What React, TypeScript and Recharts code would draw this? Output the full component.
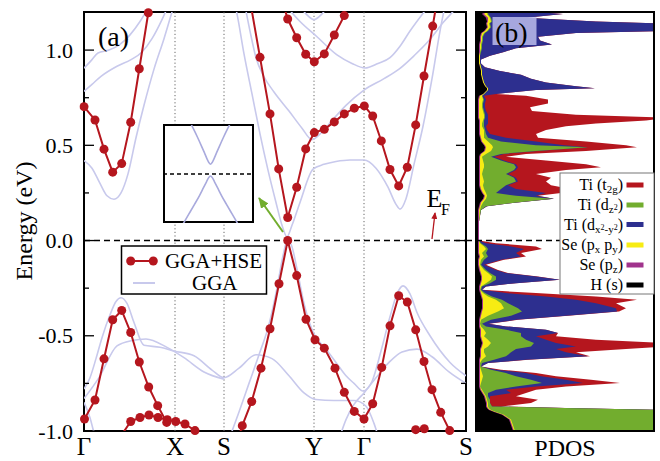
import React from 'react';
import {
  LineChart,
  Line,
  AreaChart,
  Area,
  XAxis,
  YAxis,
  ReferenceLine,
  ReferenceArea,
} from 'recharts';

const RED = '#b5161e';
const GGA = '#c8c9ec';
const INSET_LINE = '#a9aadd';
const GREEN = '#72ad2e';
const BLUE = '#2d2f8f';
const YELLOW = '#f7ec13';
const PURPLE = '#a0338c';
const SERIF = '"Liberation Serif", "Times New Roman", Times, serif';

const PLOT_R = 466; // right edge of panel (a) inside its svg
const PDOS_R = 654; // right edge of panel (b)
const INSET_R = 140; // right edge of the inset plot inside its svg

// k-path and energy axis
const kTicks = [0, 91, 140, 230, 280, 382];
const kLabels = ['Γ', 'X', 'S', 'Y', 'Γ', 'S'];
const eTicks = [-1, -0.75, -0.5, -0.25, 0, 0.25, 0.5, 0.75, 1];
const insetTicks = [-0.05, 0.05];

// GGA+HSE bands, [k, E(eV)]
const hseC1 = [[0, 0.703], [11, 0.633], [20, 0.48], [28.7, 0.359], [37.7, 0.404], [46.7, 0.621], [55.3, 0.902], [64.3, 1.196]];
const hseC2 = [[164, 1.32], [176, 0.962], [186, 0.665], [194.7, 0.376], [203.7, 0.121], [212.7, 0.28], [221.7, 0.481], [230.3, 0.567], [240.3, 0.584], [250.3, 0.623], [260.3, 0.665], [270.3, 0.695], [280.3, 0.707], [288.7, 0.654], [297.3, 0.523], [306, 0.373], [314.7, 0.287], [323.3, 0.385], [331.7, 0.607], [340, 0.864], [348.7, 1.126], [355, 1.32]];
const hseC3 = [[194.7, 1.32], [203.7, 1.163], [212.7, 1.065], [221.7, 0.978], [230.3, 0.939], [240.3, 0.98], [250.3, 1.079], [260.3, 1.181], [268, 1.32]];
const hseV1 = [[0.5, -0.937], [11, -0.837], [20, -0.621], [28.7, -0.416], [37.7, -0.367], [46.7, -0.483], [55.3, -0.638], [64.7, -0.769], [73.7, -0.867], [82.7, -0.955]];
const hseV2 = [[30, -1.08], [46.7, -0.95], [56, -0.929], [65, -0.916], [74, -0.929], [83.3, -0.941], [91.7, -0.95], [101, -0.963], [111, -0.998], [120, -1.12]];
const hseV3 = [[149, -1.12], [158.3, -0.972], [167.7, -0.845], [177, -0.67], [186, -0.463], [195, -0.227], [203.7, 0], [212.7, -0.184], [222, -0.413], [231, -0.521], [240.3, -0.565], [251, -0.67], [260.3, -0.797], [270.3, -0.897], [280, -0.937], [288.7, -0.857], [297.7, -0.666], [306, -0.448], [314.7, -0.29], [323.3, -0.323], [331.7, -0.469], [340, -0.635], [348, -0.783], [356.7, -0.902], [365.7, -0.998], [374, -1.12]];
const hseV4 = [[323, -1.12], [331.7, -0.993], [340.3, -0.988], [349, -1.12]];
const hseBands = [hseC1, hseC2, hseC3, hseV1, hseV2, hseV3, hseV4];

// GGA bands, [k, E(eV)]
const ggaC1 = [[0, 0.42], [8, 0.38], [16, 0.3], [23, 0.235], [30, 0.217], [37, 0.25], [44, 0.35], [52, 0.54], [60, 0.71], [70, 0.9], [80, 1.06], [88, 1.2], [96, 1.33]];
const ggaC2 = [[150, 1.26], [153, 1.19], [160, 0.98], [168, 0.77], [176, 0.56], [184, 0.37], [192, 0.2], [198, 0.08], [203, 0.02], [208, 0.08], [216, 0.2], [229, 0.375], [240, 0.4], [252, 0.415], [266, 0.423], [280, 0.423], [292, 0.38], [304, 0.28], [312, 0.19], [316, 0.165], [322, 0.22], [330, 0.4], [339, 0.6], [348, 0.85], [356, 1.1], [362, 1.26]];
const ggaC3 = [[0, 0.905], [8, 0.95], [14, 0.985], [25, 1.0], [36, 1.03], [46, 1.08], [56, 1.15], [64, 1.22]];
const ggaC4 = [[0, 0.783], [8, 0.82], [17, 0.862], [33, 0.915], [47, 0.95], [58, 0.99], [68, 1.06], [78, 1.16], [84, 1.23]];
const ggaC5 = [[160, 1.26], [166, 1.1], [172, 0.96], [180, 0.86], [190, 0.78], [205, 0.68], [218, 0.59], [228, 0.53], [238, 0.57], [248, 0.63], [262, 0.71], [280, 0.79], [300, 0.85], [315, 0.9], [330, 0.97], [345, 1.05], [360, 1.15], [372, 1.22], [378, 1.26]];
const ggaC6 = [[204, 1.22], [216, 1.15], [233, 1.07], [253, 0.975], [268, 0.93], [281, 0.906], [294, 0.93], [306, 0.96], [316, 1.02], [326, 1.1], [343, 1.22]];
const ggaC7 = [[212, 1.26], [222, 1.19], [230, 1.16], [238, 1.19], [248, 1.26]];
const ggaV1 = [[0, -0.78], [6, -0.72], [12, -0.62], [18, -0.51], [26, -0.39], [32, -0.32], [37, -0.3], [43, -0.33], [50, -0.43], [60, -0.55], [76, -0.56], [90, -0.58], [110, -0.605], [128, -0.68], [140, -0.72], [155, -0.67], [172, -0.6], [188, -0.62], [205, -0.71], [220, -0.8], [232, -0.835], [250, -0.84], [270, -0.84], [282, -0.87], [290, -0.96], [296, -1.06]];
const ggaV2 = [[0, -0.83], [15, -0.72], [33, -0.553], [48, -0.525], [62, -0.517], [83, -0.561], [100, -0.615], [120, -0.69], [140, -0.728]];
const ggaV3 = [[146, -1.03], [155, -0.9], [165, -0.75], [175, -0.6], [185, -0.44], [193, -0.25], [199, -0.08], [203, -0.004], [207, -0.02], [213, -0.15], [220, -0.33], [229, -0.48], [242, -0.57], [252, -0.64], [262, -0.71], [270, -0.75], [279, -0.79], [288, -0.74], [297, -0.58], [306, -0.4], [313, -0.28], [319, -0.238], [326, -0.28], [333, -0.378], [346, -0.5], [366, -0.64], [382, -0.71]];
const ggaV4 = [[254, -1.06], [262, -0.94], [270, -0.86], [280, -0.8], [292, -0.72], [305, -0.64], [318, -0.585], [333, -0.57], [348, -0.61], [365, -0.69], [382, -0.75]];
const ggaV5 = [[0, -0.85], [6, -0.93], [11, -1.03], [14, -1.08]];
const ggaBands = [ggaC1, ggaC2, ggaC3, ggaC4, ggaC5, ggaC6, ggaC7, ggaV1, ggaV2, ggaV3, ggaV4, ggaV5];

// inset: zoom at the gap, [k, E(eV)]
const insetUpper = [[-21, 0.108], [-17, 0.092], [-13, 0.075], [-9, 0.057], [-6, 0.043], [-3.5, 0.031], [-1.5, 0.023], [0, 0.02], [1.5, 0.023], [3.5, 0.031], [6, 0.043], [9, 0.057], [13, 0.075], [17, 0.092], [21, 0.108]];
const insetLower = [[-28, -0.104], [-22, -0.083], [-16, -0.062], [-11, -0.044], [-7, -0.028], [-4, -0.016], [-2, -0.008], [0, -0.004], [2, -0.008], [4, -0.016], [7, -0.028], [11, -0.044], [16, -0.062], [22, -0.083], [28, -0.104]];

// PDOS (stacked, cumulative values, arb. units)
const pdosE = [
  1.2, 1.19, 1.17, 1.15, 1.14, 1.12, 1.1, 1.09, 1.07, 1.05,
  1.03, 1.01, 0.99, 0.97, 0.95, 0.93, 0.91, 0.89, 0.87, 0.85,
  0.83, 0.81, 0.8, 0.79, 0.77, 0.76, 0.74, 0.72, 0.7, 0.68,
  0.66, 0.645, 0.63, 0.615, 0.6, 0.58, 0.56, 0.54, 0.52, 0.5,
  0.49, 0.47, 0.455, 0.44, 0.42, 0.4, 0.385, 0.37, 0.35, 0.33,
  0.31, 0.29, 0.27, 0.25, 0.235, 0.22, 0.2, 0.18, 0.16, 0.1,
  0.05, 0, -0.014, -0.031, -0.045, -0.066, -0.084, -0.101, -0.127, -0.154,
  -0.171, -0.189, -0.206, -0.224, -0.241, -0.259, -0.276, -0.294, -0.311, -0.329,
  -0.355, -0.372, -0.395, -0.416, -0.437, -0.451, -0.468, -0.486, -0.503, -0.521,
  -0.538, -0.556, -0.57, -0.587, -0.608, -0.626, -0.643, -0.661, -0.678, -0.696,
  -0.713, -0.731, -0.748, -0.766, -0.783, -0.801, -0.818, -0.836, -0.853, -0.871,
  -0.88, -0.89, -0.9, -0.915, -0.94, -0.97, -1,
];
const pdosH = [
  8, 6, 10, 11, 10, 11, 8, 5, 4, 4,
  3, 3, 3, 3, 3, 3, 4, 5, 5, 6,
  7, 9, 11, 11, 7, 3, 2, 2, 2, 2,
  2, 2, 3, 3, 3, 3, 3, 4, 5, 8,
  9, 8, 4, 3, 3, 3, 3, 3, 3, 3,
  3, 3, 4, 6, 8, 7, 4, 3, 2, 2,
  2, 2, 2, 2, 2, 2, 3, 2, 2, 3,
  4, 5, 5, 4, 3, 3, 4, 5, 6, 6,
  6, 5, 4, 3, 3, 3, 4, 4, 4, 5,
  6, 5, 4, 4, 4, 3, 3, 3, 3, 3,
  3, 3, 3, 3, 4, 6, 8, 9, 10, 10,
  11, 13, 18, 26, 33, 35, 37,
];
const pdosSePz = [
  10, 8, 12, 12, 11, 12, 9, 6, 5, 5,
  4, 4, 4, 3, 3, 3, 4, 5, 5, 6,
  7, 9, 11, 11, 7, 4, 3, 3, 3, 3,
  3, 3, 4, 4, 4, 4, 4, 5, 6, 9,
  10, 9, 5, 4, 4, 4, 4, 4, 4, 4,
  4, 4, 5, 7, 9, 8, 5, 4, 3, 3,
  3, 3, 3, 3, 3, 3, 4, 3, 3, 4,
  5, 6, 6, 5, 4, 4, 5, 6, 7, 7,
  7, 6, 5, 4, 4, 4, 5, 5, 5, 6,
  7, 6, 5, 5, 5, 4, 4, 4, 4, 4,
  4, 4, 4, 4, 5, 7, 9, 10, 11, 11,
  12, 14, 19, 27, 34, 36, 38,
];
const pdosSePxy = [
  12, 11, 14, 15, 13, 14, 11, 8, 6, 6,
  5, 5, 4, 4, 4, 4, 5, 6, 6, 7,
  8, 10, 12, 12, 8, 6, 7, 6, 6, 7,
  8, 8, 7, 6, 6, 8, 8, 8, 12, 16,
  17, 15, 10, 6, 7, 8, 8, 7, 6, 7,
  8, 7, 8, 10, 11, 10, 7, 5, 4, 3,
  3, 3, 4, 8, 10, 6, 8, 5, 4, 8,
  12, 16, 15, 10, 5, 4, 7, 12, 20, 25,
  28, 22, 12, 5, 4, 5, 8, 10, 8, 12,
  15, 12, 8, 8, 10, 6, 4, 4, 5, 6,
  7, 6, 5, 4, 6, 8, 10, 11, 12, 12,
  13, 15, 20, 28, 35, 37, 39,
];
const pdosTiDz2 = [
  13, 12, 15, 16, 14, 15, 12, 9, 7, 7,
  6, 6, 5, 4, 4, 4, 5, 6, 6, 7,
  8, 10, 12, 12, 8, 6, 8, 7, 7, 8,
  9, 9, 8, 8, 8, 9, 10, 12, 25, 60,
  112, 60, 25, 15, 25, 38, 40, 38, 30, 38,
  40, 30, 25, 20, 40, 77, 40, 10, 5, 3,
  3, 3, 5, 10, 12, 10, 12, 8, 5, 10,
  14, 20, 20, 14, 6, 5, 9, 16, 26, 32,
  42, 46, 35, 15, 6, 10, 30, 45, 45, 50,
  58, 55, 40, 35, 30, 18, 6, 5, 15, 30,
  40, 55, 66, 40, 20, 12, 12, 14, 14, 16,
  100, 190, 190, 190, 190, 190, 190,
];
const pdosTiDx2 = [
  60, 87, 50, 120, 180, 190, 190, 100, 62, 64,
  76, 40, 28, 14, 5, 5, 9, 24, 45, 55,
  70, 100, 119, 60, 20, 8, 10, 9, 9, 10,
  12, 12, 12, 12, 10, 11, 14, 30, 60, 88,
  112, 62, 28, 18, 28, 40, 42, 40, 32, 40,
  42, 32, 40, 70, 60, 78, 41, 11, 5, 3,
  3, 3, 10, 35, 48, 40, 45, 25, 8, 20,
  30, 60, 84, 40, 10, 6, 30, 70, 100, 120,
  140, 141, 90, 40, 12, 30, 70, 82, 60, 70,
  80, 100, 80, 90, 112, 50, 12, 5, 20, 50,
  65, 90, 107, 60, 30, 35, 14, 14, 14, 16,
  100, 190, 190, 190, 190, 190, 190,
];
const pdosTiT2g = [
  60, 87, 50, 120, 180, 190, 190, 100, 62, 64,
  76, 40, 28, 14, 5, 5, 9, 24, 45, 55,
  70, 100, 119, 60, 20, 50, 72, 72, 54, 56,
  100, 190, 170, 120, 90, 70, 60, 62, 110, 150,
  161, 110, 50, 30, 70, 110, 125, 90, 60, 75,
  70, 75, 95, 85, 62, 78, 41, 11, 5, 3,
  3, 3, 20, 60, 66, 45, 50, 28, 10, 22,
  32, 62, 84, 40, 10, 6, 60, 120, 161, 140,
  150, 143, 92, 42, 13, 30, 70, 82, 80, 120,
  190, 190, 150, 100, 114, 52, 12, 5, 25, 60,
  80, 115, 144, 90, 60, 50, 40, 62, 55, 25,
  100, 190, 190, 190, 190, 190, 190,
];

const toPts = (band: number[][]) => band.map(([k, e]) => ({ k, e }));

const pdosRows = pdosE.map((e, i) => ({
  e,
  h: pdosH[i],
  sePz: pdosSePz[i],
  sePxy: pdosSePxy[i],
  tiDz2: pdosTiDz2[i],
  tiDx2: pdosTiDx2[i],
  tiT2g: pdosTiT2g[i],
}));

const isMajor = (v: number) => Math.abs(v * 2 - Math.round(v * 2)) < 1e-6;

const EnergyTick = (props: any) => {
  const { x, y, payload } = props;
  const v = payload.value;
  const len = isMajor(v) ? 10 : 5;
  return (
    <g>
      <line x1={x} x2={x + len} y1={y} y2={y} stroke="#000" strokeWidth={1.3} />
      <line x1={PLOT_R - len} x2={PLOT_R} y1={y} y2={y} stroke="#000" strokeWidth={1.3} />
      {isMajor(v) && (
        <text x={x - 11} y={y + 7.5} textAnchor="end" fontSize={22} fontFamily={SERIF} fill="#000">
          {v.toFixed(1)}
        </text>
      )}
    </g>
  );
};

const PdosTick = (props: any) => {
  const { x, y } = props;
  return (
    <g>
      <line x1={x} x2={x + 5} y1={y} y2={y} stroke="#000" strokeWidth={1.2} />
      <line x1={PDOS_R - 5} x2={PDOS_R} y1={y} y2={y} stroke="#000" strokeWidth={1.2} />
    </g>
  );
};

const InsetTick = (props: any) => {
  const { x, y, payload } = props;
  return (
    <g>
      <line x1={x} x2={x + 4} y1={y} y2={y} stroke="#000" strokeWidth={1.2} />
      <line x1={INSET_R - 4} x2={INSET_R} y1={y} y2={y} stroke="#000" strokeWidth={1.2} />
      <text x={x - 3} y={y + 5.5} textAnchor="end" fontSize={16} fontFamily={SERIF} fill="#000">
        {payload.value.toFixed(2)}
      </text>
    </g>
  );
};

function BandChart() {
  return (
    <LineChart width={660} height={461} margin={{ top: 12, right: 194, bottom: 0, left: 24 }}>
      <XAxis
        type="number"
        dataKey="k"
        domain={[0, 382]}
        allowDataOverflow
        ticks={kTicks}
        interval={0}
        tickFormatter={(v: number) => kLabels[kTicks.indexOf(v)] ?? ''}
        axisLine={false}
        tickLine={false}
        tickMargin={0}
        height={30}
        tick={{ fontSize: 25, fill: '#000', fontFamily: SERIF }}
      />
      <YAxis
        type="number"
        domain={[-1, 1.2]}
        allowDataOverflow
        ticks={eTicks}
        interval={0}
        width={60}
        axisLine={false}
        tickLine={false}
        tickSize={0}
        tickMargin={0}
        tick={<EnergyTick />}
      />
      {kTicks.slice(1, 5).map((k) => (
        <ReferenceLine key={`v${k}`} x={k} stroke="#666" strokeDasharray="1.2 2.4" strokeWidth={1} />
      ))}
      {ggaBands.map((b, i) => (
        <Line
          key={`gga${i}`}
          data={toPts(b)}
          dataKey="e"
          type="monotone"
          stroke={GGA}
          strokeWidth={1.6}
          dot={false}
          activeDot={false}
          isAnimationActive={false}
        />
      ))}
      {hseBands.map((b, i) => (
        <Line
          key={`hse${i}`}
          data={toPts(b)}
          dataKey="e"
          type="linear"
          stroke={RED}
          strokeWidth={2}
          dot={{ r: 4.5, fill: RED, stroke: RED, strokeWidth: 0, clipDot: false }}
          activeDot={false}
          isAnimationActive={false}
        />
      ))}
      <ReferenceLine y={0} stroke="#000" strokeDasharray="6 4" strokeWidth={1.5} />
      <ReferenceArea x1={0} x2={382} y1={-1} y2={1.2} fill="none" stroke="#000" strokeWidth={2} />
    </LineChart>
  );
}

function PdosChart() {
  return (
    <AreaChart
      layout="vertical"
      width={660}
      height={461}
      data={pdosRows}
      margin={{ top: 12, right: 6, bottom: 30, left: 476 }}
    >
      <XAxis type="number" domain={[0, 178]} allowDataOverflow hide />
      <YAxis
        type="number"
        dataKey="e"
        domain={[-1, 1.2]}
        reversed
        allowDataOverflow
        ticks={eTicks}
        interval={0}
        width={0}
        axisLine={false}
        tickLine={false}
        tickSize={0}
        tickMargin={0}
        tick={<PdosTick />}
      />
      <Area dataKey="tiT2g" type="linear" fill={RED} fillOpacity={1} stroke="none" isAnimationActive={false} />
      <Area dataKey="tiDx2" type="linear" fill={BLUE} fillOpacity={1} stroke="none" isAnimationActive={false} />
      <Area dataKey="tiDz2" type="linear" fill={GREEN} fillOpacity={1} stroke="none" isAnimationActive={false} />
      <Area dataKey="sePxy" type="linear" fill={YELLOW} fillOpacity={1} stroke="none" isAnimationActive={false} />
      <Area dataKey="sePz" type="linear" fill={PURPLE} fillOpacity={1} stroke="none" isAnimationActive={false} />
      <Area dataKey="h" type="linear" fill="#000" fillOpacity={1} stroke="none" isAnimationActive={false} />
      <ReferenceLine
        segment={[{ x: -10, y: 0 }, { x: 178, y: 0 }]}
        ifOverflow="visible"
        stroke="#000"
        strokeDasharray="6 4"
        strokeWidth={1.5}
      />
      <ReferenceArea x1={0} x2={178} y1={-1} y2={1.2} fill="none" stroke="#000" strokeWidth={2} />
    </AreaChart>
  );
}

function InsetChart() {
  return (
    <LineChart width={150} height={118} margin={{ top: 10, right: 10, bottom: 10, left: 50 }}>
      <XAxis type="number" dataKey="k" domain={[-47.5, 42.5]} allowDataOverflow hide />
      <YAxis
        type="number"
        domain={[-0.1, 0.1]}
        allowDataOverflow
        ticks={insetTicks}
        interval={0}
        width={0}
        axisLine={false}
        tickLine={false}
        tickSize={0}
        tickMargin={0}
        tick={<InsetTick />}
      />
      <ReferenceLine y={0} stroke="#000" strokeDasharray="4 3" strokeWidth={1.4} />
      <Line data={toPts(insetUpper)} dataKey="e" type="monotone" stroke={INSET_LINE} strokeWidth={1.6} dot={false} isAnimationActive={false} />
      <Line data={toPts(insetLower)} dataKey="e" type="monotone" stroke={INSET_LINE} strokeWidth={1.6} dot={false} isAnimationActive={false} />
    </LineChart>
  );
}

const pdosLegend = [
  { color: RED, y: 190, label: <>Ti (t<tspan dy={3} fontSize={11}>2g</tspan><tspan dy={-3}>)</tspan></> },
  { color: GREEN, y: 210, label: <>Ti (d<tspan dy={3} fontSize={11}>z</tspan><tspan dy={-3} fontSize={8}>2</tspan><tspan fontSize={16}>)</tspan></> },
  { color: BLUE, y: 229.5, label: <>Ti (d<tspan dy={3} fontSize={11}>x</tspan><tspan dy={-3} fontSize={8}>2</tspan><tspan dy={3} fontSize={11}>-y</tspan><tspan dy={-3} fontSize={8}>2</tspan><tspan fontSize={16}>)</tspan></> },
  { color: YELLOW, y: 250, label: <>Se (p<tspan dy={3} fontSize={11}>x</tspan><tspan dy={-3}> p</tspan><tspan dy={3} fontSize={11}>y</tspan><tspan dy={-3}>)</tspan></> },
  { color: PURPLE, y: 270, label: <>Se (p<tspan dy={3} fontSize={11}>z</tspan><tspan dy={-3}>)</tspan></> },
  { color: '#000', y: 290, label: <>H (s)</> },
];

export default function App() {
  return (
    <div style={{ position: 'absolute', left: 0, top: 0, width: 660, height: 461, background: '#fff', fontFamily: SERIF }}>
      <div style={{ position: 'absolute', left: 0, top: 0 }}>
        <BandChart />
      </div>
      <div style={{ position: 'absolute', left: 0, top: 0 }}>
        <PdosChart />
      </div>
      <div
        style={{
          position: 'absolute',
          left: 163,
          top: 124,
          width: 91,
          height: 99,
          boxSizing: 'border-box',
          border: '2px solid #000',
          background: '#fff',
        }}
      />
      <div style={{ position: 'absolute', left: 113, top: 115 }}>
        <InsetChart />
      </div>
      <svg style={{ position: 'absolute', left: 0, top: 0 }} width={660} height={461} fontFamily={SERIF}>
        <defs>
          <marker id="ahGreen" markerWidth={11} markerHeight={9} refX={10} refY={4.5} orient="auto" markerUnits="userSpaceOnUse">
            <path d="M0,0 L11,4.5 L0,9 z" fill={GREEN} />
          </marker>
          <marker id="ahRed" markerWidth={7} markerHeight={6} refX={6} refY={3} orient="auto" markerUnits="userSpaceOnUse">
            <path d="M0,0 L7,3 L0,6 z" fill={RED} />
          </marker>
        </defs>

        <text x={98} y={46} fontSize={28} fill="#000">(a)</text>
        <rect x={492.5} y={17} width={44} height={28} fill="#bcbcec" opacity={0.85} />
        <text x={495} y={42} fontSize={28} fill="#000">(b)</text>

        <text x={426.5} y={207} fontSize={26} fill="#000">E</text>
        <text x={441} y={215} fontSize={16} fill="#000">F</text>
        <line x1={432} y1={239} x2={435} y2={213} stroke={RED} strokeWidth={1.3} markerEnd="url(#ahRed)" />
        <line x1={283} y1={232} x2={259} y2={198} stroke={GREEN} strokeWidth={2} markerEnd="url(#ahGreen)" />

        <text x={32} y={221} transform="rotate(-90 32 221)" textAnchor="middle" fontSize={24} fill="#000">
          Energy (eV)
        </text>
        <text x={565} y={456} textAnchor="middle" fontSize={24} fill="#000">PDOS</text>

        {/* legend, panel (a) */}
        <rect x={121.5} y={246} width={145} height={48} fill="#fff" stroke="#000" strokeWidth={1.5} />
        <line x1={130.7} y1={261} x2={153.3} y2={261} stroke={RED} strokeWidth={2} />
        <circle cx={130.7} cy={261} r={4.5} fill={RED} />
        <circle cx={153.3} cy={261} r={4.5} fill={RED} />
        <text x={165} y={268} fontSize={21} fill="#000">GGA+HSE</text>
        <line x1={133} y1={283} x2={155} y2={283} stroke={GGA} strokeWidth={2} />
        <text x={192} y={290} fontSize={21} fill="#000">GGA</text>

        {/* legend, panel (b) */}
        <rect x={560} y={173} width={94} height={121} fill="#fff" stroke="#777" strokeWidth={1} />
        {pdosLegend.map((it, i) => (
          <g key={`lg${i}`}>
            <text x={623} y={it.y} textAnchor="end" fontSize={16} fill="#000">{it.label}</text>
            <rect x={626.5} y={it.y - 7.5} width={17} height={5} fill={it.color} />
          </g>
        ))}
      </svg>
    </div>
  );
}
